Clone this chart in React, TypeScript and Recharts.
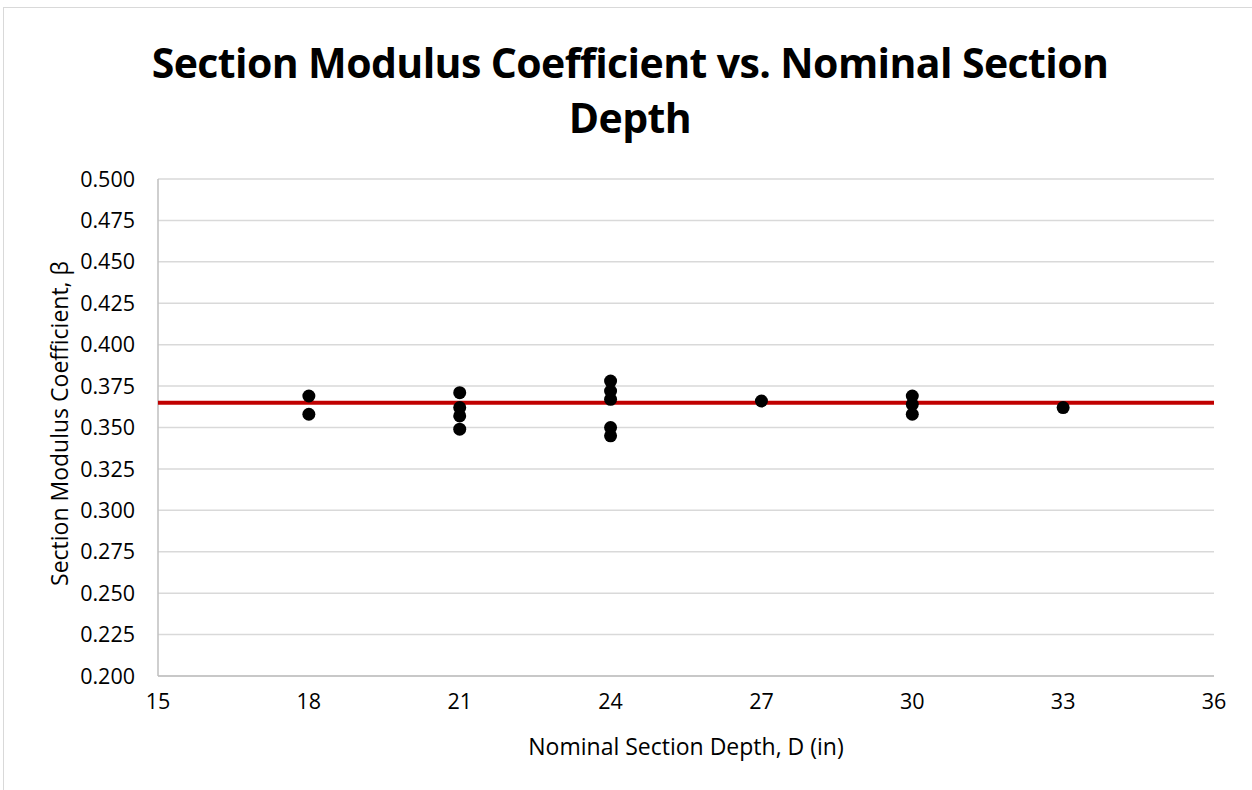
import React from "react";
import {
  ComposedChart,
  Scatter,
  XAxis,
  YAxis,
  CartesianGrid,
} from "recharts";

// nominal depth (in) for each measured section
const depths = [18, 18, 21, 21, 21, 21, 24, 24, 24, 24, 24, 27, 30, 30, 30, 33];
const betas = [
  0.369, 0.358, 0.371, 0.362, 0.357, 0.349, 0.378, 0.372, 0.367, 0.35, 0.345,
  0.366, 0.369, 0.364, 0.358, 0.362,
];
// mean value, drawn as the red line across the plot
const avgLineX = [15, 36];
const avgBeta = 0.365;

const xTicks = [15, 18, 21, 24, 27, 30, 33, 36];
const yTicks = [0.2, 0.225, 0.25, 0.275, 0.3, 0.325, 0.35, 0.375, 0.4, 0.425, 0.45, 0.475, 0.5];

const points = depths.map((d, i) => ({ depth: d, beta: betas[i] }));
const avgLine = avgLineX.map((d) => ({ depth: d, beta: avgBeta }));

const FONT = "'Open Sans', 'Noto Sans', sans-serif";

function Dot(props: any) {
  const { cx, cy } = props;
  return <circle cx={cx} cy={cy} r={6.5} fill="#000000" />;
}

function NoDot() {
  return <g />;
}

function YTitle(props: any) {
  const { viewBox } = props;
  const cy = viewBox.y + viewBox.height / 2 - 4;
  return (
    <text
      x={59}
      y={cy}
      transform={`rotate(-90 59 ${cy})`}
      textAnchor="middle"
      dominantBaseline="central"
      fontSize={23}
      fontFamily={FONT}
      fill="#000"
    >
      Section Modulus Coefficient, β
    </text>
  );
}

function XTitle(props: any) {
  const { viewBox } = props;
  return (
    <text
      x={viewBox.x + viewBox.width / 2}
      y={746}
      textAnchor="middle"
      dominantBaseline="central"
      fontSize={23}
      fontFamily={FONT}
      fill="#000"
    >
      Nominal Section Depth, D (in)
    </text>
  );
}

export default function App() {
  return (
    <div style={{ position: "absolute", left: 0, top: 0, width: 1252, height: 790, background: "#fff" }}>
      <style>{`body{margin:0;overflow:hidden;background:#fff}`}</style>
      <div
        style={{
          position: "absolute",
          left: 3,
          top: 7,
          width: 1260,
          height: 800,
          border: "1px solid #d9d9d9",
        }}
      />
      <div
        style={{
          position: "absolute",
          left: 0,
          width: 1260,
          top: 35,
          textAlign: "center",
          fontFamily: FONT,
          fontWeight: 700,
          fontSize: 41,
          lineHeight: "55px",
          color: "#000",
          letterSpacing: -0.6,
        }}
      >
        Section Modulus Coefficient vs. Nominal Section
        <br />
        Depth
      </div>
      <div style={{ position: "absolute", left: 0, top: 0 }}>
        <ComposedChart
          width={1252}
          height={790}
          margin={{ top: 179, right: 38, bottom: 34, left: 0 }}
        >
          <CartesianGrid
            horizontal
            vertical={false}
            stroke="#d9d9d9"
            strokeWidth={1.5}
          />
          <XAxis
            type="number"
            dataKey="depth"
            domain={[15, 36]}
            ticks={xTicks}
            allowDataOverflow
            height={80}
            tickLine={false}
            tickSize={0}
            tickMargin={18}
            axisLine={{ stroke: "#bfbfbf", strokeWidth: 1.5 }}
            tick={{ fill: "#000", fontSize: 21.5, fontFamily: FONT }}
            label={<XTitle />}
          />
          <YAxis
            type="number"
            dataKey="beta"
            domain={[0.2, 0.5]}
            ticks={yTicks}
            allowDataOverflow
            width={158}
            tickLine={false}
            tickSize={0}
            tickMargin={23}
            axisLine={{ stroke: "#bfbfbf", strokeWidth: 1.5 }}
            tick={{ fill: "#000", fontSize: 21.5, fontFamily: FONT }}
            tickFormatter={(v: number) => v.toFixed(3)}
            label={<YTitle />}
          />
          <Scatter
            data={avgLine}
            line={{ stroke: "#c00000", strokeWidth: 4 }}
            shape={<NoDot />}
            isAnimationActive={false}
          />
          <Scatter
            data={points}
            shape={<Dot />}
            isAnimationActive={false}
          />
        </ComposedChart>
      </div>
    </div>
  );
}
